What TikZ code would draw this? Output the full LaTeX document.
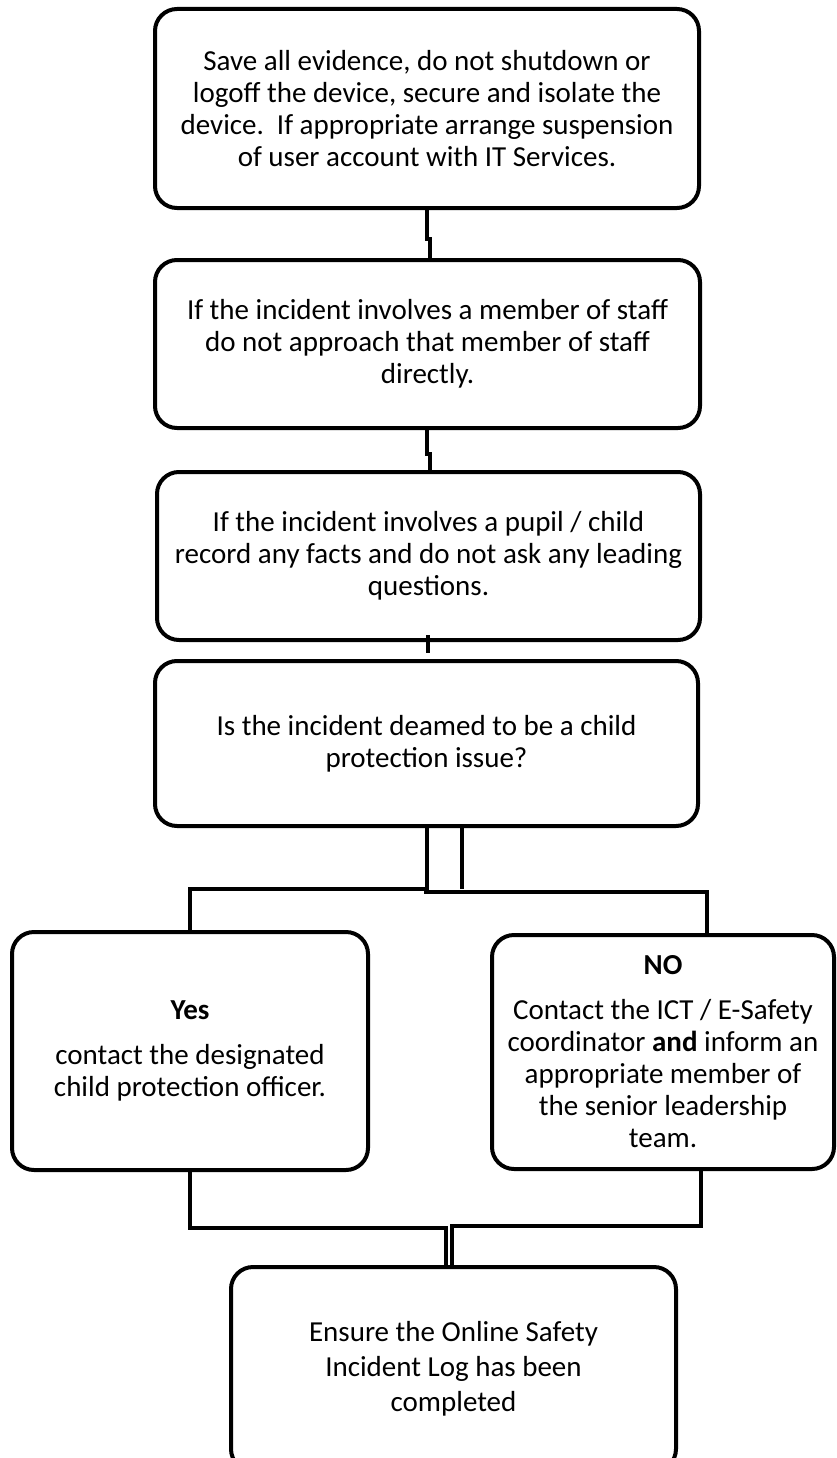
\documentclass[tikz,border=0pt]{standalone}
\usepackage{fontspec}
\setmainfont{Carlito}
\usetikzlibrary{calc}
\begin{document}
\begin{tikzpicture}[x=1pt,y=-1pt,
  box/.style={draw, line width=4pt, rounded corners=22pt, align=center, inner sep=0pt,
    font=\fontsize{29}{32}\selectfont},
  conn/.style={line width=4pt}]
\useasboundingbox (0,0) rectangle (837,1458);
\fill[white] (0,0) rectangle (837,1458);
\clip (0,0) rectangle (837,1458);

\node[box, minimum width=544pt, minimum height=199pt] (b1) at (427,108.5)
  {Save all evidence, do not shutdown or\\logoff the device, secure and isolate the\\device.~~If appropriate arrange suspension\\of user account with IT Services.};
\node[box, minimum width=545pt, minimum height=168pt] (b2) at (427.5,344)
  {If the incident involves a member of staff\\do not approach that member of staff\\directly.};
\node[box, minimum width=543pt, minimum height=168pt] (b3) at (428.5,556)
  {If the incident involves a pupil / child\\record any facts and do not ask any leading\\questions.};
\node[box, minimum width=543pt, minimum height=165pt] (b4) at (426.5,743.5)
  {Is the incident deamed to be a child\\protection issue?};
\node[box, minimum width=356pt, minimum height=238pt] (yes) at (190,1051)
  {\bfseries Yes\\[13pt]contact the designated\\child protection officer.};
\node[box, minimum width=342pt, minimum height=234pt] (no) at (663,1052)
  {\bfseries NO\\[13pt]Contact the ICT / E-Safety\\coordinator \textbf{and} inform an\\appropriate member of\\the senior leadership\\team.};
\node[box, minimum width=445pt, minimum height=204pt, font=\fontsize{29}{35}\selectfont] (end) at (453.5,1369)
  {Ensure the Online Safety\\Incident Log has been\\completed};

% connectors
\draw[conn] (b1.south) -- ++(0,29) -- ++(2.5,0) -- ++(0,23);
\draw[conn] ($(b2.south)+(-0.5,0)$) -- ++(0,24) -- ++(3,0) -- ++(0,19);
\draw[conn] ($(b3.south)+(-1,-7)$) -- ++(0,18);
\draw[conn] (b4.south) -- ++(0,61) -| (yes.north);
\draw[conn] ($(b4.south)+(35.5,0)$) -- ++(0,61);
\draw[conn] ($(b4.south)+(-2.5,64)$) -| ($(no.north)+(44,0)$);
\draw[conn] (yes.south) -- ++(0,56) -| ($(end.north)+(-7.5,0)$);
\draw[conn] ($(no.south)+(38,0)$) -- ++(0,55) -| ($(end.north)+(-1.5,0)$);
\end{tikzpicture}
\end{document}
